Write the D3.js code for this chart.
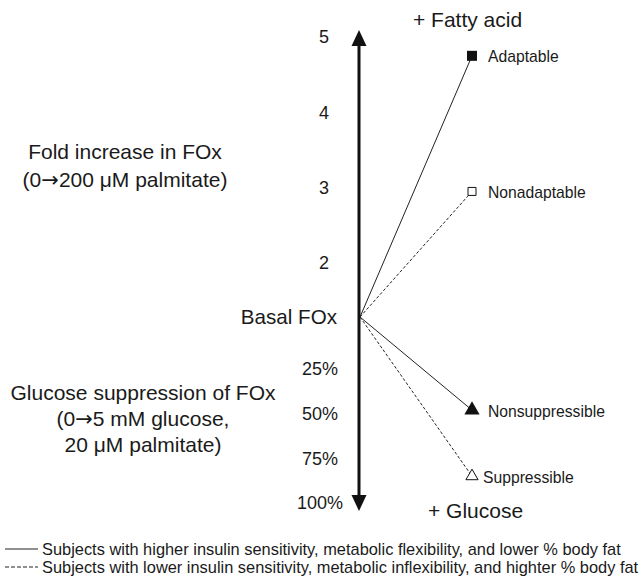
<!DOCTYPE html>
<html>
<head>
<meta charset="utf-8">
<script src="https://cdn.jsdelivr.net/npm/d3@7"></script>
<style>
  body { margin: 0; background: #fff; }
  svg text { font-family: "Liberation Sans", Arial, Helvetica, sans-serif; fill: #1a1a1a; }
  svg tspan.arrow { font-family: "DejaVu Sans", sans-serif; }
</style>
</head>
<body>
<svg id="paper"></svg>
<script>
// chart data
let foldTicks = [2, 3, 4, 5];
let pctTicks = [25, 50, 75, 100];
let upperGroups = ["Adaptable", "Nonadaptable"];
let upperFold = [4.75, 2.95];
let upperFilled = [true, false];
let lowerGroups = ["Nonsuppressible", "Suppressible"];
let lowerPct = [48, 85];
let lowerFilled = [true, false];
let legendLabels = [
    "Subjects with higher insulin sensitivity, metabolic flexibility, and lower % body fat",
    "Subjects with lower insulin sensitivity, metabolic inflexibility, and highter % body fat"
];

let width = 642, height = 580;
let axisX = 359, markX = 472;

let svg = d3.select("#paper").attr("width", width).attr("height", height);

// fold scale above basal, suppression scale below
let foldY = d3.scaleLinear().domain([1, 2, 5]).range([317, 263, 37]);
let pctY = d3.scaleLinear().domain([0, 25, 100]).range([317, 369, 503]);

// main vertical axis with arrows
svg.append("line")
    .attr("x1", axisX).attr("x2", axisX)
    .attr("y1", 40).attr("y2", 500)
    .style("stroke", "#111").style("stroke-width", 3);
svg.append("path")
    .attr("d", d3.line()([[axisX, 30], [axisX - 7.5, 46], [axisX + 7.5, 46]]) + "Z")
    .style("fill", "#111");
svg.append("path")
    .attr("d", d3.line()([[axisX, 511], [axisX - 7.5, 495], [axisX + 7.5, 495]]) + "Z")
    .style("fill", "#111");

// tick labels
svg.selectAll("text.fold")
    .data(foldTicks)
    .enter()
    .append("text")
    .attr("class", "fold")
    .attr("x", 324)
    .attr("y", d => foldY(d))
    .attr("dy", "0.35em")
    .attr("text-anchor", "middle")
    .style("font-size", "18px")
    .text(d => d);

svg.selectAll("text.pct")
    .data(pctTicks)
    .enter()
    .append("text")
    .attr("class", "pct")
    .attr("x", 320)
    .attr("y", d => pctY(d))
    .attr("dy", "0.35em")
    .attr("text-anchor", "middle")
    .style("font-size", "18px")
    .text(d => d + "%");

svg.append("text")
    .attr("x", 337).attr("y", foldY(1)).attr("dy", "0.35em")
    .attr("text-anchor", "end")
    .style("font-size", "20.6px")
    .text("Basal FOx");

svg.append("text")
    .attr("x", 413).attr("y", 20).attr("dy", "0.35em")
    .style("font-size", "21px")
    .text("+ Fatty acid");
svg.append("text")
    .attr("x", 428).attr("y", 511).attr("dy", "0.35em")
    .style("font-size", "21px")
    .text("+ Glucose");

// side titles, the arrow goes in its own tspan so it is drawn long
let sideTitles = [
    {lines: [["Fold increase in FOx"], ["(0", "\u2192", "200 \u03bcM palmitate)"]], x: 125, y: 152, gap: 28},
    {lines: [["Glucose suppression of FOx"], ["(0", "\u2192", "5 mM glucose,"], ["20 \u03bcM palmitate)"]], x: 143, y: 393, gap: 26}
];
sideTitles.forEach(function (t) {
    t.lines.forEach(function (parts, i) {
        let txt = svg.append("text")
            .attr("x", t.x).attr("y", t.y + i * t.gap).attr("dy", "0.35em")
            .attr("text-anchor", "middle")
            .style("font-size", "21px");
        parts.forEach(function (p) {
            txt.append("tspan")
                .attr("class", p === "\u2192" ? "arrow" : null)
                .text(p);
        });
    });
});

// connecting lines from basal point
let points = upperGroups.map((g, i) => ({name: g, y: foldY(upperFold[i]), filled: upperFilled[i], shape: "square"}))
    .concat(lowerGroups.map((g, i) => ({name: g, y: pctY(lowerPct[i]), filled: lowerFilled[i], shape: "triangle"})));

svg.selectAll("line.link")
    .data(points)
    .enter()
    .append("line")
    .attr("class", "link")
    .attr("x1", axisX + 1).attr("y1", foldY(1))
    .attr("x2", markX).attr("y2", d => d.y)
    .style("stroke", "#222")
    .style("stroke-width", 1)
    .style("stroke-dasharray", d => d.filled ? null : "3,2");

// markers
svg.selectAll("path.mark")
    .data(points)
    .enter()
    .append("path")
    .attr("class", "mark")
    .attr("transform", d => "translate(" + markX + "," + d.y + ")")
    .attr("d", d => d3.symbol().type(d.shape === "square" ? d3.symbolSquare : d3.symbolTriangle)
        .size(d.filled ? 100 : 64)())
    .style("fill", d => d.filled ? "#111" : "#fff")
    .style("stroke", "#111")
    .style("stroke-width", d => d.filled ? 0 : 1);

svg.selectAll("text.mlabel")
    .data(points)
    .enter()
    .append("text")
    .attr("class", "mlabel")
    .attr("x", d => d.name === "Suppressible" ? 483 : 488)
    .attr("y", d => d.y + 1)
    .attr("dy", "0.35em")
    .style("font-size", "15.7px")
    .text(d => d.name);

// legend
let legend = svg.selectAll("g.legend")
    .data(legendLabels)
    .enter()
    .append("g")
    .attr("class", "legend")
    .attr("transform", (d, i) => "translate(0," + (549 + i * 18) + ")");
legend.append("line")
    .attr("x1", 5).attr("x2", 38)
    .style("stroke", "#222")
    .style("stroke-width", 1.2)
    .style("stroke-dasharray", (d, i) => i ? "4,2" : null);
legend.append("text")
    .attr("x", 42).attr("dy", "0.35em")
    .style("font-size", "16.4px")
    .text(d => d);
</script>
</body>
</html>
